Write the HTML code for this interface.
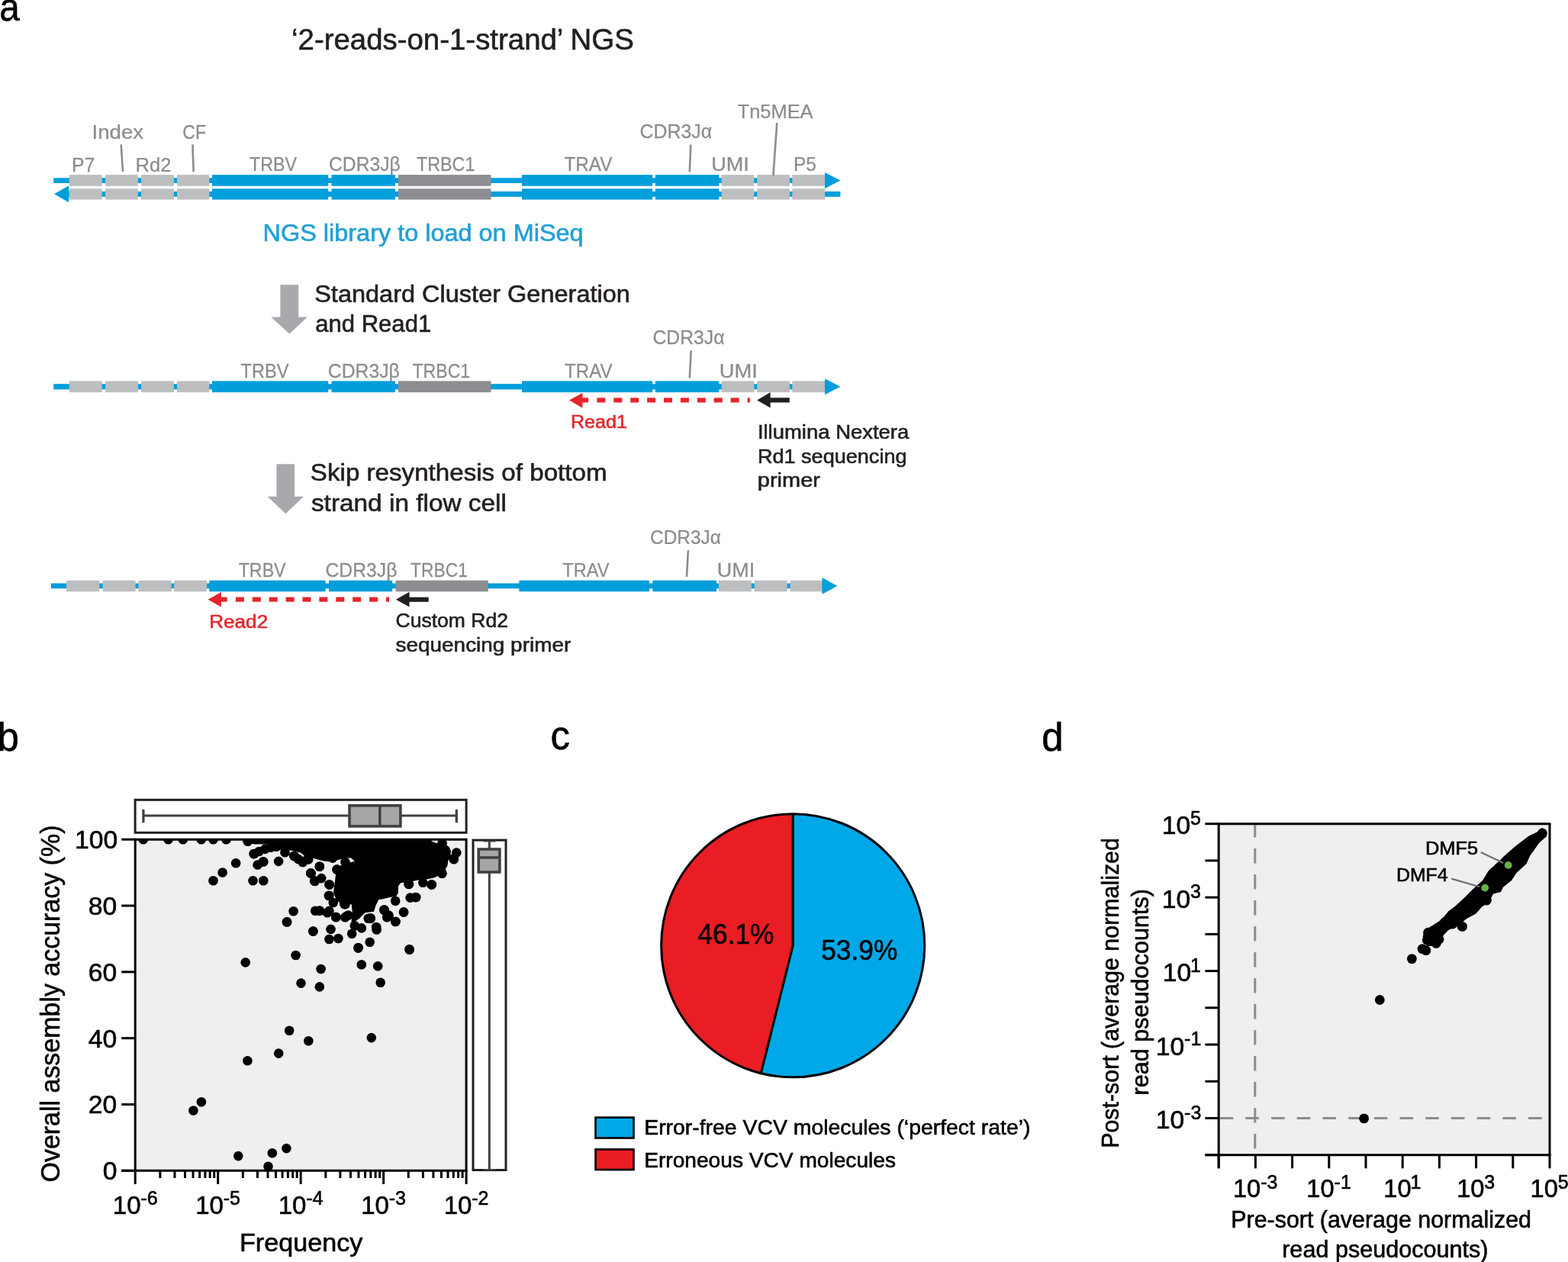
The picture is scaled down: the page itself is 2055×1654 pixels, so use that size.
<!DOCTYPE html>
<html><head><meta charset="utf-8"><title>Figure</title>
<style>html,body{margin:0;padding:0;background:#fff;overflow:hidden}svg{display:block}text{font-family:'Liberation Sans', Arial, sans-serif}</style>
</head><body>
<svg width="2055" height="1654" viewBox="0 0 2055 1654">
<rect width="2055" height="1654" fill="#fff"/>
<rect x="70.20" y="233.20" width="1011.80" height="6.80" fill="#009edb" />
<rect x="90.70" y="229.10" width="43.00" height="14.70" fill="#bcbec0" />
<rect x="138.10" y="229.10" width="42.80" height="14.70" fill="#bcbec0" />
<rect x="185.10" y="229.10" width="42.80" height="14.70" fill="#bcbec0" />
<rect x="232.00" y="229.10" width="42.30" height="14.70" fill="#bcbec0" />
<rect x="278.00" y="229.10" width="152.20" height="14.70" fill="#009edb" />
<rect x="434.50" y="229.10" width="83.50" height="14.70" fill="#009edb" />
<rect x="521.80" y="229.10" width="121.70" height="14.70" fill="#8d8e91" />
<rect x="684.00" y="229.10" width="171.10" height="14.70" fill="#009edb" />
<rect x="858.80" y="229.10" width="83.60" height="14.70" fill="#009edb" />
<rect x="945.70" y="229.10" width="42.60" height="14.70" fill="#bcbec0" />
<rect x="992.30" y="229.10" width="42.60" height="14.70" fill="#bcbec0" />
<rect x="1038.30" y="229.10" width="42.80" height="14.70" fill="#bcbec0" />
<polygon points="1081,226 1101.4,236.6 1081,247.3" fill="#009edb"/>
<rect x="88.00" y="250.90" width="1013.40" height="7.00" fill="#009edb" />
<rect x="90.70" y="247.30" width="43.00" height="14.30" fill="#bcbec0" />
<rect x="138.10" y="247.30" width="42.80" height="14.30" fill="#bcbec0" />
<rect x="185.10" y="247.30" width="42.80" height="14.30" fill="#bcbec0" />
<rect x="232.00" y="247.30" width="42.30" height="14.30" fill="#bcbec0" />
<rect x="278.00" y="247.30" width="152.20" height="14.30" fill="#009edb" />
<rect x="434.50" y="247.30" width="83.50" height="14.30" fill="#009edb" />
<rect x="521.80" y="247.30" width="121.70" height="14.30" fill="#8d8e91" />
<rect x="684.00" y="247.30" width="171.10" height="14.30" fill="#009edb" />
<rect x="858.80" y="247.30" width="83.60" height="14.30" fill="#009edb" />
<rect x="945.70" y="247.30" width="42.60" height="14.30" fill="#bcbec0" />
<rect x="992.30" y="247.30" width="42.60" height="14.30" fill="#bcbec0" />
<rect x="1038.30" y="247.30" width="42.80" height="14.30" fill="#bcbec0" />
<polygon points="90.2,243.3 71,254.2 90.2,265.2" fill="#009edb"/>
<line x1="158.7" y1="189.4" x2="161" y2="225" stroke="#8b8c8f" stroke-width="2.6"/>
<line x1="252.4" y1="189.4" x2="253.7" y2="225.3" stroke="#8b8c8f" stroke-width="2.6"/>
<line x1="905.3" y1="189.5" x2="903.8" y2="225.3" stroke="#8b8c8f" stroke-width="2.6"/>
<line x1="1018.3" y1="161" x2="1013.4" y2="230.2" stroke="#8b8c8f" stroke-width="2.6"/>
<polygon points="367.4,373.2 391.2,373.2 391.2,415.5 402.9,415.5 379.3,437.5 355.3,415.5 367.4,415.5" fill="#a7a9ac"/>
<rect x="70.20" y="503.20" width="1011.80" height="7.20" fill="#009edb" />
<rect x="90.70" y="499.40" width="43.00" height="14.80" fill="#bcbec0" />
<rect x="138.10" y="499.40" width="42.80" height="14.80" fill="#bcbec0" />
<rect x="185.10" y="499.40" width="42.80" height="14.80" fill="#bcbec0" />
<rect x="232.00" y="499.40" width="42.30" height="14.80" fill="#bcbec0" />
<rect x="278.00" y="499.40" width="152.20" height="14.80" fill="#009edb" />
<rect x="434.50" y="499.40" width="83.50" height="14.80" fill="#009edb" />
<rect x="521.80" y="499.40" width="121.70" height="14.80" fill="#8d8e91" />
<rect x="684.00" y="499.40" width="171.10" height="14.80" fill="#009edb" />
<rect x="858.80" y="499.40" width="83.60" height="14.80" fill="#009edb" />
<rect x="945.70" y="499.40" width="42.60" height="14.80" fill="#bcbec0" />
<rect x="992.30" y="499.40" width="42.60" height="14.80" fill="#bcbec0" />
<rect x="1038.30" y="499.40" width="42.80" height="14.80" fill="#bcbec0" />
<polygon points="1081,496.2 1101.4,506.7 1081,517.2" fill="#009edb"/>
<line x1="905.7" y1="459.4" x2="903.8" y2="495.4" stroke="#8b8c8f" stroke-width="2.6"/>
<polygon points="746.1,524.6 763.4,515.0 763.4,534.7" fill="#e3262b"/>
<rect x="762.4" y="521.4" width="8.70" height="6.100000000000023" fill="#e3262b"/>
<rect x="782.40" y="521.4" width="11.00" height="6.100000000000023" fill="#e3262b"/>
<rect x="804.30" y="521.4" width="11.00" height="6.100000000000023" fill="#e3262b"/>
<rect x="826.20" y="521.4" width="11.00" height="6.100000000000023" fill="#e3262b"/>
<rect x="848.10" y="521.4" width="11.00" height="6.100000000000023" fill="#e3262b"/>
<rect x="870.00" y="521.4" width="11.00" height="6.100000000000023" fill="#e3262b"/>
<rect x="891.90" y="521.4" width="11.00" height="6.100000000000023" fill="#e3262b"/>
<rect x="913.80" y="521.4" width="11.00" height="6.100000000000023" fill="#e3262b"/>
<rect x="935.70" y="521.4" width="11.00" height="6.100000000000023" fill="#e3262b"/>
<rect x="957.60" y="521.4" width="11.00" height="6.100000000000023" fill="#e3262b"/>
<rect x="979.50" y="521.4" width="3.40" height="6.100000000000023" fill="#e3262b"/>
<polygon points="992.1,524.4 1009.6,514.2 1009.6,534.6" fill="#231f20"/>
<rect x="1008.6" y="521.3" width="26.199999999999932" height="6.2000000000000455" fill="#231f20"/>
<polygon points="362.4,608.2 386,608.2 386,650.8 398.1,650.8 374.3,673.2 350.7,650.8 362.4,650.8" fill="#a7a9ac"/>
<rect x="66.90" y="764.50" width="1011.10" height="6.80" fill="#009edb" />
<rect x="87.10" y="760.70" width="43.20" height="14.60" fill="#bcbec0" />
<rect x="134.70" y="760.70" width="42.90" height="14.60" fill="#bcbec0" />
<rect x="181.40" y="760.70" width="43.20" height="14.60" fill="#bcbec0" />
<rect x="228.10" y="760.70" width="42.90" height="14.60" fill="#bcbec0" />
<rect x="274.20" y="760.70" width="152.40" height="14.60" fill="#009edb" />
<rect x="431.00" y="760.70" width="83.20" height="14.60" fill="#009edb" />
<rect x="518.60" y="760.70" width="121.20" height="14.60" fill="#8d8e91" />
<rect x="680.40" y="760.70" width="170.50" height="14.60" fill="#009edb" />
<rect x="855.40" y="760.70" width="83.60" height="14.60" fill="#009edb" />
<rect x="942.00" y="760.70" width="42.80" height="14.60" fill="#bcbec0" />
<rect x="988.80" y="760.70" width="42.80" height="14.60" fill="#bcbec0" />
<rect x="1035.50" y="760.70" width="42.30" height="14.60" fill="#bcbec0" />
<polygon points="1077.5,757 1097.4,768.1 1077.5,778.7" fill="#009edb"/>
<line x1="901.9" y1="721.3" x2="900" y2="756" stroke="#8b8c8f" stroke-width="2.6"/>
<polygon points="272.6,785.8 289.90000000000003,776.0 289.90000000000003,795.6" fill="#e3262b"/>
<rect x="288.90000000000003" y="782.6" width="8.70" height="6.100000000000023" fill="#e3262b"/>
<rect x="308.90" y="782.6" width="11.00" height="6.100000000000023" fill="#e3262b"/>
<rect x="330.80" y="782.6" width="11.00" height="6.100000000000023" fill="#e3262b"/>
<rect x="352.70" y="782.6" width="11.00" height="6.100000000000023" fill="#e3262b"/>
<rect x="374.60" y="782.6" width="11.00" height="6.100000000000023" fill="#e3262b"/>
<rect x="396.50" y="782.6" width="11.00" height="6.100000000000023" fill="#e3262b"/>
<rect x="418.40" y="782.6" width="11.00" height="6.100000000000023" fill="#e3262b"/>
<rect x="440.30" y="782.6" width="11.00" height="6.100000000000023" fill="#e3262b"/>
<rect x="462.20" y="782.6" width="11.00" height="6.100000000000023" fill="#e3262b"/>
<rect x="484.10" y="782.6" width="11.00" height="6.100000000000023" fill="#e3262b"/>
<rect x="506.00" y="782.6" width="4.00" height="6.100000000000023" fill="#e3262b"/>
<polygon points="519.0,785.7 536.5,775.7 536.5,795.6" fill="#231f20"/>
<rect x="535.5" y="782.7" width="26.200000000000045" height="6.099999999999909" fill="#231f20"/>
<rect x="177.2" y="1100.2" width="433.90000000000003" height="434.0999999999999" fill="#eef0ef"/>
<clipPath id="cb"><rect x="177.2" y="1100.2" width="433.90000000000003" height="434.0999999999999"/></clipPath><g clip-path="url(#cb)">
<polygon points="330,1099 565.6,1099 565.6,1102.4 571.8,1105.1 583.5,1105.9 589,1110.6 590.9,1115.2 590.5,1120.7 587.4,1127.7 586.6,1133.9 583.5,1140 577,1146 570,1150 561.7,1152 552.4,1152.6 540.7,1155 525.1,1157.3 522,1161.2 522,1169.8 519.6,1174.4 511,1176 501.7,1178.3 496.3,1179.1 492.4,1186.9 490,1194.7 478.4,1196.2 470.6,1204 462.8,1209.5 460.2,1211.8 461.7,1194.7 460.2,1180.7 463,1170 468,1155.7 466.4,1149.5 464,1127.7 460.2,1124.6 452.4,1124.6 440.7,1127.7 430.6,1129.3 421.2,1127.7 409.6,1124.6 397.9,1120.7 394,1117.6 380.7,1114.5 366.7,1113.7 352.7,1106.7 330.1,1105.9" fill="#000"/>
<polygon points="446,1138 452,1132 464,1129 468,1150 468,1158 463,1172 460,1182 452,1184 444,1178 441,1165 443,1150" fill="#000"/>
<polygon points="441,1137 452,1132 462,1133 462,1185 450,1186 441,1180 437,1170 439,1155" fill="#000"/>
<circle cx="187.8" cy="1100.3" r="6.3" fill="#000"/>
<circle cx="220.5" cy="1100.3" r="6.3" fill="#000"/>
<circle cx="239.8" cy="1100.3" r="6.3" fill="#000"/>
<circle cx="263.8" cy="1100.3" r="6.3" fill="#000"/>
<circle cx="279.5" cy="1100.3" r="6.3" fill="#000"/>
<circle cx="296.5" cy="1100.3" r="6.3" fill="#000"/>
<circle cx="323.9" cy="1100.3" r="6.3" fill="#000"/>
<circle cx="335" cy="1100.3" r="6.3" fill="#000"/>
<circle cx="309.1" cy="1131.2" r="6.3" fill="#000"/>
<circle cx="291.6" cy="1143.5" r="6.3" fill="#000"/>
<circle cx="279.5" cy="1154.3" r="6.3" fill="#000"/>
<circle cx="331.5" cy="1154.3" r="6.3" fill="#000"/>
<circle cx="345.3" cy="1154.3" r="6.3" fill="#000"/>
<circle cx="337.6" cy="1133.5" r="6.3" fill="#000"/>
<circle cx="345.3" cy="1129.5" r="6.3" fill="#000"/>
<circle cx="365.1" cy="1128.9" r="6.3" fill="#000"/>
<circle cx="333.2" cy="1119.0" r="6.3" fill="#000"/>
<circle cx="339.5" cy="1116.0" r="6.3" fill="#000"/>
<circle cx="347.3" cy="1112.9" r="6.3" fill="#000"/>
<circle cx="355.0" cy="1110.6" r="6.3" fill="#000"/>
<circle cx="362.0" cy="1109.8" r="6.3" fill="#000"/>
<circle cx="373.5" cy="1117.2" r="6.3" fill="#000"/>
<circle cx="385.2" cy="1121.9" r="6.3" fill="#000"/>
<circle cx="396.9" cy="1130.0" r="6.3" fill="#000"/>
<circle cx="403.9" cy="1126.0" r="6.3" fill="#000"/>
<circle cx="407.4" cy="1144.6" r="6.3" fill="#000"/>
<circle cx="412.1" cy="1154.6" r="6.3" fill="#000"/>
<circle cx="384.6" cy="1194.3" r="6.3" fill="#000"/>
<circle cx="375.9" cy="1208.5" r="6.3" fill="#000"/>
<circle cx="410.3" cy="1220.5" r="6.3" fill="#000"/>
<circle cx="413.2" cy="1193.7" r="6.3" fill="#000"/>
<circle cx="387.6" cy="1252.0" r="6.3" fill="#000"/>
<circle cx="324.7" cy="1102.8" r="6.3" fill="#000"/>
<circle cx="332.5" cy="1119.1" r="6.3" fill="#000"/>
<circle cx="344.9" cy="1129.3" r="6.3" fill="#000"/>
<circle cx="386.2" cy="1122.3" r="6.3" fill="#000"/>
<circle cx="391.0" cy="1126.0" r="6.3" fill="#000"/>
<circle cx="396.7" cy="1130.0" r="6.3" fill="#000"/>
<circle cx="402.6" cy="1126.2" r="6.3" fill="#000"/>
<circle cx="418.9" cy="1135.5" r="6.3" fill="#000"/>
<circle cx="407.6" cy="1144.5" r="6.3" fill="#000"/>
<circle cx="412.7" cy="1155.0" r="6.3" fill="#000"/>
<circle cx="421.2" cy="1151.1" r="6.3" fill="#000"/>
<circle cx="431.8" cy="1159.6" r="6.3" fill="#000"/>
<circle cx="441.5" cy="1139.4" r="6.3" fill="#000"/>
<circle cx="452.4" cy="1130.0" r="6.3" fill="#000"/>
<circle cx="418.9" cy="1118.4" r="6.3" fill="#000"/>
<circle cx="426.0" cy="1122.3" r="6.3" fill="#000"/>
<circle cx="436.0" cy="1124.6" r="6.3" fill="#000"/>
<circle cx="448.5" cy="1161.2" r="6.3" fill="#000"/>
<circle cx="431.4" cy="1173.7" r="6.3" fill="#000"/>
<circle cx="436.8" cy="1183.0" r="6.3" fill="#000"/>
<circle cx="452.4" cy="1185.3" r="6.3" fill="#000"/>
<circle cx="418.9" cy="1193.5" r="6.3" fill="#000"/>
<circle cx="429.0" cy="1196.2" r="6.3" fill="#000"/>
<circle cx="440.3" cy="1201.7" r="6.3" fill="#000"/>
<circle cx="454.0" cy="1200.9" r="6.3" fill="#000"/>
<circle cx="376.1" cy="1208.3" r="6.3" fill="#000"/>
<circle cx="598.3" cy="1117.5" r="6.3" fill="#000"/>
<circle cx="594.6" cy="1125.3" r="6.3" fill="#000"/>
<circle cx="579.4" cy="1144.7" r="6.3" fill="#000"/>
<circle cx="565.8" cy="1159.3" r="6.3" fill="#000"/>
<circle cx="554.3" cy="1156.7" r="6.3" fill="#000"/>
<circle cx="535.5" cy="1158.8" r="6.3" fill="#000"/>
<circle cx="544.4" cy="1176.1" r="6.3" fill="#000"/>
<circle cx="537.6" cy="1176.6" r="6.3" fill="#000"/>
<circle cx="529.2" cy="1195.4" r="6.3" fill="#000"/>
<circle cx="518.2" cy="1208.0" r="6.3" fill="#000"/>
<circle cx="518.2" cy="1180.8" r="6.3" fill="#000"/>
<circle cx="509.3" cy="1199.6" r="6.3" fill="#000"/>
<circle cx="503.6" cy="1192.3" r="6.3" fill="#000"/>
<circle cx="507.2" cy="1202.2" r="6.3" fill="#000"/>
<circle cx="493.6" cy="1218.5" r="6.3" fill="#000"/>
<circle cx="484.7" cy="1234.7" r="6.3" fill="#000"/>
<circle cx="469.6" cy="1242.0" r="6.3" fill="#000"/>
<circle cx="536.5" cy="1244.1" r="6.3" fill="#000"/>
<circle cx="461.2" cy="1223.7" r="6.3" fill="#000"/>
<circle cx="473.8" cy="1216.4" r="6.3" fill="#000"/>
<circle cx="464.9" cy="1213.2" r="6.3" fill="#000"/>
<circle cx="452.3" cy="1202.2" r="6.3" fill="#000"/>
<circle cx="456.5" cy="1199.6" r="6.3" fill="#000"/>
<circle cx="485.8" cy="1203.8" r="6.3" fill="#000"/>
<circle cx="482.7" cy="1203.8" r="6.3" fill="#000"/>
<circle cx="440.3" cy="1202.2" r="6.3" fill="#000"/>
<circle cx="418.8" cy="1193.9" r="6.3" fill="#000"/>
<circle cx="431.4" cy="1193.9" r="6.3" fill="#000"/>
<circle cx="410.5" cy="1220.5" r="6.3" fill="#000"/>
<circle cx="433.5" cy="1217.9" r="6.3" fill="#000"/>
<circle cx="431.4" cy="1231.0" r="6.3" fill="#000"/>
<circle cx="443.4" cy="1230.0" r="6.3" fill="#000"/>
<circle cx="430.9" cy="1174.0" r="6.3" fill="#000"/>
<circle cx="451.3" cy="1185.0" r="6.3" fill="#000"/>
<circle cx="431.4" cy="1159.3" r="6.3" fill="#000"/>
<circle cx="412.6" cy="1154.6" r="6.3" fill="#000"/>
<circle cx="407.3" cy="1144.2" r="6.3" fill="#000"/>
<circle cx="418.8" cy="1135.8" r="6.3" fill="#000"/>
<circle cx="441.8" cy="1140.0" r="6.3" fill="#000"/>
<circle cx="404.2" cy="1126.4" r="6.3" fill="#000"/>
<circle cx="594.8" cy="1126.2" r="6.3" fill="#000"/>
<circle cx="579.2" cy="1144.8" r="6.3" fill="#000"/>
<circle cx="565.6" cy="1159.6" r="6.3" fill="#000"/>
<circle cx="536.0" cy="1158.9" r="6.3" fill="#000"/>
<circle cx="545.3" cy="1176.0" r="6.3" fill="#000"/>
<circle cx="529.0" cy="1195.5" r="6.3" fill="#000"/>
<circle cx="503.3" cy="1192.7" r="6.3" fill="#000"/>
<circle cx="509.5" cy="1200.1" r="6.3" fill="#000"/>
<circle cx="518.5" cy="1207.9" r="6.3" fill="#000"/>
<circle cx="485.4" cy="1203.3" r="6.3" fill="#000"/>
<circle cx="493.2" cy="1215.0" r="6.3" fill="#000"/>
<circle cx="579.6" cy="1105.1" r="6.3" fill="#000"/>
<circle cx="321.7" cy="1261.4" r="6.3" fill="#000"/>
<circle cx="394.5" cy="1288.6" r="6.3" fill="#000"/>
<circle cx="379.2" cy="1350.8" r="6.3" fill="#000"/>
<circle cx="404.3" cy="1364.3" r="6.3" fill="#000"/>
<circle cx="365.2" cy="1380.6" r="6.3" fill="#000"/>
<circle cx="324.4" cy="1390.3" r="6.3" fill="#000"/>
<circle cx="263.9" cy="1444.3" r="6.3" fill="#000"/>
<circle cx="253.4" cy="1455.5" r="6.3" fill="#000"/>
<circle cx="312.3" cy="1515.1" r="6.3" fill="#000"/>
<circle cx="356.8" cy="1511.2" r="6.3" fill="#000"/>
<circle cx="375.4" cy="1505.1" r="6.3" fill="#000"/>
<circle cx="351.5" cy="1528.8" r="6.3" fill="#000"/>
<circle cx="469.4" cy="1242.6" r="6.3" fill="#000"/>
<circle cx="536.7" cy="1244.7" r="6.3" fill="#000"/>
<circle cx="420.6" cy="1270.0" r="6.3" fill="#000"/>
<circle cx="418.8" cy="1293.4" r="6.3" fill="#000"/>
<circle cx="473.8" cy="1264.3" r="6.3" fill="#000"/>
<circle cx="495.2" cy="1266.2" r="6.3" fill="#000"/>
<circle cx="498.7" cy="1287.8" r="6.3" fill="#000"/>
<circle cx="486.8" cy="1360.1" r="6.3" fill="#000"/>
</g>
<line x1="177.2" y1="1100.2" x2="611.1" y2="1100.2" stroke="#000" stroke-width="3"/>
<line x1="611.1" y1="1098.7" x2="611.1" y2="1534.3" stroke="#000" stroke-width="3"/>
<line x1="177.2" y1="1098.7" x2="177.2" y2="1535.8" stroke="#000" stroke-width="3"/>
<line x1="159.2" y1="1534.3" x2="612.6" y2="1534.3" stroke="#000" stroke-width="3"/>
<line x1="159.2" y1="1534.30" x2="177.2" y2="1534.30" stroke="#000" stroke-width="3"/>
<line x1="159.2" y1="1447.48" x2="177.2" y2="1447.48" stroke="#000" stroke-width="3"/>
<line x1="159.2" y1="1360.66" x2="177.2" y2="1360.66" stroke="#000" stroke-width="3"/>
<line x1="159.2" y1="1273.84" x2="177.2" y2="1273.84" stroke="#000" stroke-width="3"/>
<line x1="159.2" y1="1187.02" x2="177.2" y2="1187.02" stroke="#000" stroke-width="3"/>
<line x1="159.2" y1="1100.20" x2="177.2" y2="1100.20" stroke="#000" stroke-width="3"/>
<line x1="177.20" y1="1534.3" x2="177.20" y2="1552" stroke="#000" stroke-width="3"/>
<line x1="209.85" y1="1534.3" x2="209.85" y2="1544" stroke="#000" stroke-width="3"/>
<line x1="228.96" y1="1534.3" x2="228.96" y2="1544" stroke="#000" stroke-width="3"/>
<line x1="242.51" y1="1534.3" x2="242.51" y2="1544" stroke="#000" stroke-width="3"/>
<line x1="253.02" y1="1534.3" x2="253.02" y2="1544" stroke="#000" stroke-width="3"/>
<line x1="261.61" y1="1534.3" x2="261.61" y2="1544" stroke="#000" stroke-width="3"/>
<line x1="268.87" y1="1534.3" x2="268.87" y2="1544" stroke="#000" stroke-width="3"/>
<line x1="275.16" y1="1534.3" x2="275.16" y2="1544" stroke="#000" stroke-width="3"/>
<line x1="280.71" y1="1534.3" x2="280.71" y2="1544" stroke="#000" stroke-width="3"/>
<line x1="285.68" y1="1534.3" x2="285.68" y2="1552" stroke="#000" stroke-width="3"/>
<line x1="318.33" y1="1534.3" x2="318.33" y2="1544" stroke="#000" stroke-width="3"/>
<line x1="337.43" y1="1534.3" x2="337.43" y2="1544" stroke="#000" stroke-width="3"/>
<line x1="350.98" y1="1534.3" x2="350.98" y2="1544" stroke="#000" stroke-width="3"/>
<line x1="361.50" y1="1534.3" x2="361.50" y2="1544" stroke="#000" stroke-width="3"/>
<line x1="370.08" y1="1534.3" x2="370.08" y2="1544" stroke="#000" stroke-width="3"/>
<line x1="377.35" y1="1534.3" x2="377.35" y2="1544" stroke="#000" stroke-width="3"/>
<line x1="383.64" y1="1534.3" x2="383.64" y2="1544" stroke="#000" stroke-width="3"/>
<line x1="389.19" y1="1534.3" x2="389.19" y2="1544" stroke="#000" stroke-width="3"/>
<line x1="394.15" y1="1534.3" x2="394.15" y2="1552" stroke="#000" stroke-width="3"/>
<line x1="426.80" y1="1534.3" x2="426.80" y2="1544" stroke="#000" stroke-width="3"/>
<line x1="445.91" y1="1534.3" x2="445.91" y2="1544" stroke="#000" stroke-width="3"/>
<line x1="459.46" y1="1534.3" x2="459.46" y2="1544" stroke="#000" stroke-width="3"/>
<line x1="469.97" y1="1534.3" x2="469.97" y2="1544" stroke="#000" stroke-width="3"/>
<line x1="478.56" y1="1534.3" x2="478.56" y2="1544" stroke="#000" stroke-width="3"/>
<line x1="485.82" y1="1534.3" x2="485.82" y2="1544" stroke="#000" stroke-width="3"/>
<line x1="492.11" y1="1534.3" x2="492.11" y2="1544" stroke="#000" stroke-width="3"/>
<line x1="497.66" y1="1534.3" x2="497.66" y2="1544" stroke="#000" stroke-width="3"/>
<line x1="502.62" y1="1534.3" x2="502.62" y2="1552" stroke="#000" stroke-width="3"/>
<line x1="535.28" y1="1534.3" x2="535.28" y2="1544" stroke="#000" stroke-width="3"/>
<line x1="554.38" y1="1534.3" x2="554.38" y2="1544" stroke="#000" stroke-width="3"/>
<line x1="567.93" y1="1534.3" x2="567.93" y2="1544" stroke="#000" stroke-width="3"/>
<line x1="578.45" y1="1534.3" x2="578.45" y2="1544" stroke="#000" stroke-width="3"/>
<line x1="587.03" y1="1534.3" x2="587.03" y2="1544" stroke="#000" stroke-width="3"/>
<line x1="594.30" y1="1534.3" x2="594.30" y2="1544" stroke="#000" stroke-width="3"/>
<line x1="600.59" y1="1534.3" x2="600.59" y2="1544" stroke="#000" stroke-width="3"/>
<line x1="606.14" y1="1534.3" x2="606.14" y2="1544" stroke="#000" stroke-width="3"/>
<line x1="611.10" y1="1534.3" x2="611.10" y2="1552" stroke="#000" stroke-width="3"/>
<rect x="177.1" y="1048.3" width="434" height="43" fill="#fff" stroke="#231f20" stroke-width="3"/>
<line x1="187.9" y1="1069" x2="598.5" y2="1069" stroke="#404040" stroke-width="3"/>
<line x1="187.9" y1="1062.2" x2="187.9" y2="1076.9" stroke="#404040" stroke-width="3.3" stroke-linecap="round"/>
<line x1="598.3" y1="1062.2" x2="598.3" y2="1076.9" stroke="#404040" stroke-width="3.3" stroke-linecap="round"/>
<rect x="458" y="1055.8" width="66.9" height="27.1" fill="#a6a6a6" stroke="#404040" stroke-width="3.6"/>
<line x1="497.8" y1="1056" x2="497.8" y2="1083" stroke="#404040" stroke-width="3.5"/>
<rect x="620" y="1101.1" width="43" height="432.4" fill="#fff" stroke="#231f20" stroke-width="3"/>
<line x1="641.3" y1="1101.8" x2="641.3" y2="1533" stroke="#404040" stroke-width="3"/>
<line x1="633.5" y1="1102.5" x2="649.5" y2="1102.5" stroke="#404040" stroke-width="2"/>
<line x1="633.5" y1="1533" x2="649.5" y2="1533" stroke="#404040" stroke-width="2"/>
<rect x="627.2" y="1113" width="27.7" height="30" fill="#a6a6a6" stroke="#404040" stroke-width="3.6"/>
<line x1="627" y1="1123.9" x2="655" y2="1123.9" stroke="#404040" stroke-width="3.5"/>
<circle cx="1039.2" cy="1239.25" r="172.6" fill="#00a8e8"/>
<path d="M1039.2,1239.25 L1039.2,1066.65 A172.6,172.6 0 0 0 997.33,1406.69 Z" fill="#ea1c24"/>
<path d="M1039.2,1066.65 L1039.2,1239.25 L997.33,1406.69" fill="none" stroke="#000" stroke-width="3" stroke-linejoin="miter"/>
<circle cx="1039.2" cy="1239.25" r="172.6" fill="none" stroke="#000" stroke-width="3"/>
<rect x="780.5" y="1464.6" width="50" height="26.9" fill="#00a8e8" stroke="#000" stroke-width="2.6"/>
<rect x="780.5" y="1506.4" width="50" height="26.6" fill="#ea1c24" stroke="#000" stroke-width="2.6"/>
<rect x="1597.2" y="1079.7" width="433.79999999999995" height="434.0" fill="#eef0ef"/>
<line x1="1644.8" y1="1081.2" x2="1644.8" y2="1512.2" stroke="#8c8c8c" stroke-width="3" stroke-dasharray="19.6 14.4" stroke-dashoffset="3.2" />
<line x1="1598.7" y1="1465.4" x2="2029.5" y2="1465.4" stroke="#8c8c8c" stroke-width="3" stroke-dasharray="17.5 16.2" stroke-dashoffset="0"/>
<polygon points="2021,1085 2027,1090 2027,1096 2017,1105 2005,1122 2000.6,1132 1987.6,1144 1981,1154 1970,1162.7 1967,1169 1957,1171.4 1951.7,1182.3 1942,1188.8 1934.3,1197.5 1922.3,1204 1909.2,1214 1898.3,1219 1891.8,1225.8 1887.5,1236 1878.8,1240 1870,1240 1864.6,1228 1866.8,1219.3 1877.7,1212.8 1889.6,1205 1898.3,1194.3 1907,1187.7 1920,1175.8 1932,1163.8 1943,1154 1951,1141 1962.5,1130.5 1974,1119.5 1985.5,1109.5 2003,1096 2015.9,1089.8" fill="#000"/>
<circle cx="2021.3" cy="1092" r="6.4" fill="#000"/>
<circle cx="1850.4" cy="1256.6" r="6.4" fill="#000"/>
<circle cx="1808.3" cy="1310.5" r="6.4" fill="#000"/>
<circle cx="1864" cy="1243.6" r="6.4" fill="#000"/>
<circle cx="1868.9" cy="1245.7" r="6.4" fill="#000"/>
<circle cx="1870.3" cy="1232.2" r="6.4" fill="#000"/>
<circle cx="1871.6" cy="1222.2" r="6.4" fill="#000"/>
<circle cx="1883" cy="1217" r="6.4" fill="#000"/>
<circle cx="1882.2" cy="1236.4" r="6.4" fill="#000"/>
<circle cx="1886" cy="1231.3" r="6.4" fill="#000"/>
<circle cx="1893.6" cy="1208.5" r="6.4" fill="#000"/>
<circle cx="1903.8" cy="1211" r="6.4" fill="#000"/>
<circle cx="1916.5" cy="1214.4" r="6.4" fill="#000"/>
<circle cx="1787.6" cy="1465.9" r="6.4" fill="#000"/>
<circle cx="1915.8" cy="1213.8" r="6.4" fill="#000"/>
<circle cx="1948.4" cy="1180" r="6.4" fill="#000"/>
<circle cx="1976.7" cy="1133.9" r="4.9" fill="#6ab046"/>
<circle cx="1946.2" cy="1163.6" r="4.9" fill="#6ab046"/>
<line x1="1940.8" y1="1117" x2="1970.2" y2="1131.1" stroke="#6d6e70" stroke-width="2.2"/>
<line x1="1902.2" y1="1151.6" x2="1939.1" y2="1162.2" stroke="#6d6e70" stroke-width="2.2"/>
<line x1="1597.2" y1="1079.7" x2="2032.5" y2="1079.7" stroke="#000" stroke-width="3"/>
<line x1="2031.0" y1="1079.7" x2="2031.0" y2="1513.7" stroke="#000" stroke-width="3"/>
<line x1="1597.2" y1="1078.2" x2="1597.2" y2="1531.3" stroke="#000" stroke-width="3"/>
<line x1="1579.4" y1="1513.7" x2="2032.5" y2="1513.7" stroke="#000" stroke-width="3"/>
<line x1="1579.4" y1="1079.70" x2="1597.2" y2="1079.70" stroke="#000" stroke-width="3"/>
<line x1="1597.20" y1="1513.7" x2="1597.20" y2="1531.3" stroke="#000" stroke-width="3"/>
<line x1="1579.4" y1="1127.92" x2="1597.2" y2="1127.92" stroke="#000" stroke-width="3"/>
<line x1="1645.40" y1="1513.7" x2="1645.40" y2="1531.3" stroke="#000" stroke-width="3"/>
<line x1="1579.4" y1="1176.14" x2="1597.2" y2="1176.14" stroke="#000" stroke-width="3"/>
<line x1="1693.60" y1="1513.7" x2="1693.60" y2="1531.3" stroke="#000" stroke-width="3"/>
<line x1="1579.4" y1="1224.37" x2="1597.2" y2="1224.37" stroke="#000" stroke-width="3"/>
<line x1="1741.80" y1="1513.7" x2="1741.80" y2="1531.3" stroke="#000" stroke-width="3"/>
<line x1="1579.4" y1="1272.59" x2="1597.2" y2="1272.59" stroke="#000" stroke-width="3"/>
<line x1="1790.00" y1="1513.7" x2="1790.00" y2="1531.3" stroke="#000" stroke-width="3"/>
<line x1="1579.4" y1="1320.81" x2="1597.2" y2="1320.81" stroke="#000" stroke-width="3"/>
<line x1="1838.20" y1="1513.7" x2="1838.20" y2="1531.3" stroke="#000" stroke-width="3"/>
<line x1="1579.4" y1="1369.03" x2="1597.2" y2="1369.03" stroke="#000" stroke-width="3"/>
<line x1="1886.40" y1="1513.7" x2="1886.40" y2="1531.3" stroke="#000" stroke-width="3"/>
<line x1="1579.4" y1="1417.26" x2="1597.2" y2="1417.26" stroke="#000" stroke-width="3"/>
<line x1="1934.60" y1="1513.7" x2="1934.60" y2="1531.3" stroke="#000" stroke-width="3"/>
<line x1="1579.4" y1="1465.48" x2="1597.2" y2="1465.48" stroke="#000" stroke-width="3"/>
<line x1="1982.80" y1="1513.7" x2="1982.80" y2="1531.3" stroke="#000" stroke-width="3"/>
<line x1="1579.4" y1="1513.70" x2="1597.2" y2="1513.70" stroke="#000" stroke-width="3"/>
<line x1="2031.00" y1="1513.7" x2="2031.00" y2="1531.3" stroke="#000" stroke-width="3"/>
<text transform="translate(-0.67,26.50) scale(0.9346,1)" font-size="51" fill="#000" stroke="#000" stroke-width="0.6">a</text>
<text transform="translate(382.00,64.70) scale(0.9978,1)" font-size="38.5" fill="#231f20" stroke="#231f20" stroke-width="0.6">‘2-reads-on-1-strand’ NGS</text>
<text transform="translate(94.01,224.60) scale(0.9926,1)" font-size="25" fill="#8b8c8f" stroke="#8b8c8f" stroke-width="0.25">P7</text>
<text transform="translate(120.59,181.60) scale(1.1034,1)" font-size="25" fill="#8b8c8f" stroke="#8b8c8f" stroke-width="0.25">Index</text>
<text transform="translate(177.56,224.60) scale(1.0209,1)" font-size="25" fill="#8b8c8f" stroke="#8b8c8f" stroke-width="0.25">Rd2</text>
<text transform="translate(239.37,181.80) scale(0.9258,1)" font-size="25" fill="#8b8c8f" stroke="#8b8c8f" stroke-width="0.25">CF</text>
<text transform="translate(327.07,224.20) scale(0.9308,1)" font-size="25" fill="#8b8c8f" stroke="#8b8c8f" stroke-width="0.25">TRBV</text>
<text transform="translate(431.01,224.20) scale(0.9871,1)" font-size="25" fill="#8b8c8f" stroke="#8b8c8f" stroke-width="0.25">CDR3Jβ</text>
<text transform="translate(546.07,224.20) scale(0.9313,1)" font-size="25" fill="#8b8c8f" stroke="#8b8c8f" stroke-width="0.25">TRBC1</text>
<text transform="translate(739.43,224.20) scale(0.9734,1)" font-size="25" fill="#8b8c8f" stroke="#8b8c8f" stroke-width="0.25">TRAV</text>
<text transform="translate(838.50,181.40) scale(0.9968,1)" font-size="25" fill="#8b8c8f" stroke="#8b8c8f" stroke-width="0.25">CDR3Jα</text>
<text transform="translate(932.24,224.20) scale(1.0810,1)" font-size="25" fill="#8b8c8f" stroke="#8b8c8f" stroke-width="0.25">UMI</text>
<text transform="translate(966.58,154.60) scale(1.0188,1)" font-size="25" fill="#8b8c8f" stroke="#8b8c8f" stroke-width="0.25">Tn5MEA</text>
<text transform="translate(1039.94,224.20) scale(0.9786,1)" font-size="25" fill="#8b8c8f" stroke="#8b8c8f" stroke-width="0.25">P5</text>
<text transform="translate(344.56,316.30) scale(1.0467,1)" font-size="31" fill="#239fd8" stroke="#239fd8" stroke-width="0.6">NGS library to load on MiSeq</text>
<text transform="translate(412.18,395.60) scale(1.0587,1)" font-size="30.7" fill="#231f20" stroke="#231f20" stroke-width="0.6">Standard Cluster Generation</text>
<text transform="translate(413.29,434.90) scale(1.0115,1)" font-size="30.7" fill="#231f20" stroke="#231f20" stroke-width="0.6">and Read1</text>
<text transform="translate(315.56,494.50) scale(0.9446,1)" font-size="25" fill="#8b8c8f" stroke="#8b8c8f" stroke-width="0.25">TRBV</text>
<text transform="translate(429.81,494.50) scale(0.9903,1)" font-size="25" fill="#8b8c8f" stroke="#8b8c8f" stroke-width="0.25">CDR3Jβ</text>
<text transform="translate(540.48,494.50) scale(0.9237,1)" font-size="25" fill="#8b8c8f" stroke="#8b8c8f" stroke-width="0.25">TRBC1</text>
<text transform="translate(740.04,494.90) scale(0.9641,1)" font-size="25" fill="#8b8c8f" stroke="#8b8c8f" stroke-width="0.25">TRAV</text>
<text transform="translate(855.51,451.00) scale(0.9892,1)" font-size="25" fill="#8b8c8f" stroke="#8b8c8f" stroke-width="0.25">CDR3Jα</text>
<text transform="translate(942.81,494.90) scale(1.0952,1)" font-size="25" fill="#8b8c8f" stroke="#8b8c8f" stroke-width="0.25">UMI</text>
<text transform="translate(747.95,561.40) scale(1.0261,1)" font-size="24.5" fill="#e3262b" stroke="#e3262b" stroke-width="0.6">Read1</text>
<text transform="translate(992.89,574.80) scale(1.0565,1)" font-size="26" fill="#231f20" stroke="#231f20" stroke-width="0.6">Illumina Nextera</text>
<text transform="translate(992.92,606.60) scale(1.0413,1)" font-size="26" fill="#231f20" stroke="#231f20" stroke-width="0.6">Rd1 sequencing</text>
<text transform="translate(992.77,638.30) scale(1.1155,1)" font-size="26" fill="#231f20" stroke="#231f20" stroke-width="0.6">primer</text>
<text transform="translate(406.84,630.40) scale(1.0801,1)" font-size="30.7" fill="#231f20" stroke="#231f20" stroke-width="0.6">Skip resynthesis of bottom</text>
<text transform="translate(407.91,669.80) scale(1.0879,1)" font-size="30.7" fill="#231f20" stroke="#231f20" stroke-width="0.6">strand in flow cell</text>
<text transform="translate(312.67,755.60) scale(0.9292,1)" font-size="25" fill="#8b8c8f" stroke="#8b8c8f" stroke-width="0.25">TRBV</text>
<text transform="translate(426.51,755.60) scale(0.9892,1)" font-size="25" fill="#8b8c8f" stroke="#8b8c8f" stroke-width="0.25">CDR3Jβ</text>
<text transform="translate(538.09,755.60) scale(0.9125,1)" font-size="25" fill="#8b8c8f" stroke="#8b8c8f" stroke-width="0.25">TRBC1</text>
<text transform="translate(737.36,755.60) scale(0.9438,1)" font-size="25" fill="#8b8c8f" stroke="#8b8c8f" stroke-width="0.25">TRAV</text>
<text transform="translate(939.84,755.60) scale(1.0786,1)" font-size="25" fill="#8b8c8f" stroke="#8b8c8f" stroke-width="0.25">UMI</text>
<text transform="translate(852.02,713.20) scale(0.9785,1)" font-size="25" fill="#8b8c8f" stroke="#8b8c8f" stroke-width="0.25">CDR3Jα</text>
<text transform="translate(274.17,822.80) scale(1.0667,1)" font-size="24.5" fill="#e3262b" stroke="#e3262b" stroke-width="0.6">Read2</text>
<text transform="translate(518.58,822.40) scale(1.0197,1)" font-size="26" fill="#231f20" stroke="#231f20" stroke-width="0.6">Custom Rd2</text>
<text transform="translate(518.53,854.40) scale(1.0745,1)" font-size="26" fill="#231f20" stroke="#231f20" stroke-width="0.6">sequencing primer</text>
<text transform="translate(-3.50,983.60)" font-size="51" fill="#000" stroke="#000" stroke-width="0.6">b</text>
<text transform="translate(98.10,1112.20)" font-size="33.7" fill="#000" stroke="#000" stroke-width="0.6">100</text>
<text transform="translate(115.80,1199.02)" font-size="33.7" fill="#000" stroke="#000" stroke-width="0.6">80</text>
<text transform="translate(115.80,1285.84)" font-size="33.7" fill="#000" stroke="#000" stroke-width="0.6">60</text>
<text transform="translate(115.80,1372.66)" font-size="33.7" fill="#000" stroke="#000" stroke-width="0.6">40</text>
<text transform="translate(115.80,1459.48)" font-size="33.7" fill="#000" stroke="#000" stroke-width="0.6">20</text>
<text transform="translate(134.80,1546.30)" font-size="33.7" fill="#000" stroke="#000" stroke-width="0.6">0</text>
<text transform="translate(147.75,1590.70) scale(0.9818,1)" font-size="33.7" fill="#000" stroke="#000" stroke-width="0.6">10</text>
<text transform="translate(184.30,1578.90)" font-size="25" fill="#000" stroke="#000" stroke-width="0.6">-6</text>
<text transform="translate(256.23,1590.70) scale(0.9818,1)" font-size="33.7" fill="#000" stroke="#000" stroke-width="0.6">10</text>
<text transform="translate(292.78,1578.90)" font-size="25" fill="#000" stroke="#000" stroke-width="0.6">-5</text>
<text transform="translate(364.70,1590.70) scale(0.9818,1)" font-size="33.7" fill="#000" stroke="#000" stroke-width="0.6">10</text>
<text transform="translate(401.25,1578.90)" font-size="25" fill="#000" stroke="#000" stroke-width="0.6">-4</text>
<text transform="translate(473.18,1590.70) scale(0.9818,1)" font-size="33.7" fill="#000" stroke="#000" stroke-width="0.6">10</text>
<text transform="translate(509.73,1578.90)" font-size="25" fill="#000" stroke="#000" stroke-width="0.6">-3</text>
<text transform="translate(581.65,1590.70) scale(0.9818,1)" font-size="33.7" fill="#000" stroke="#000" stroke-width="0.6">10</text>
<text transform="translate(618.20,1578.90)" font-size="25" fill="#000" stroke="#000" stroke-width="0.6">-2</text>
<text transform="translate(313.99,1640.10) scale(1.0045,1)" font-size="34" fill="#000" stroke="#000" stroke-width="0.6">Frequency</text>
<text transform="translate(77.60,1549.47) rotate(-90) scale(0.9847,1)" font-size="34.5" fill="#000" stroke="#000" stroke-width="0.6">Overall assembly accuracy (%)</text>
<text transform="translate(721.40,982.30)" font-size="51" fill="#000" stroke="#000" stroke-width="0.6">c</text>
<text transform="translate(914.53,1237.20) scale(0.9653,1)" font-size="36.5" fill="#000" stroke="#000" stroke-width="0.6">46.1%</text>
<text transform="translate(1076.27,1257.80) scale(0.9660,1)" font-size="36.5" fill="#000" stroke="#000" stroke-width="0.6">53.9%</text>
<text transform="translate(844.21,1487.20) scale(0.9960,1)" font-size="28.5" fill="#000" stroke="#000" stroke-width="0.6">Error-free VCV molecules (‘perfect rate’)</text>
<text transform="translate(844.23,1530.30) scale(0.9873,1)" font-size="28.5" fill="#000" stroke="#000" stroke-width="0.6">Erroneous VCV molecules</text>
<text transform="translate(1365.30,983.50)" font-size="51" fill="#000" stroke="#000" stroke-width="0.6">d</text>
<text transform="translate(1867.91,1119.70) scale(1.0460,1)" font-size="24.3" fill="#000" stroke="#000" stroke-width="0.6">DMF5</text>
<text transform="translate(1829.95,1154.90) scale(1.0234,1)" font-size="24.3" fill="#000" stroke="#000" stroke-width="0.6">DMF4</text>
<text transform="translate(1560.10,1081.00)" font-size="25" fill="#000" stroke="#000" stroke-width="0.6">5</text>
<text transform="translate(1522.80,1093.20)" font-size="33.7" fill="#000" stroke="#000" stroke-width="0.6">10</text>
<text transform="translate(1560.10,1177.44)" font-size="25" fill="#000" stroke="#000" stroke-width="0.6">3</text>
<text transform="translate(1522.80,1189.64)" font-size="33.7" fill="#000" stroke="#000" stroke-width="0.6">10</text>
<text transform="translate(1560.10,1273.89)" font-size="25" fill="#000" stroke="#000" stroke-width="0.6">1</text>
<text transform="translate(1523.80,1286.09)" font-size="33.7" fill="#000" stroke="#000" stroke-width="0.6">10</text>
<text transform="translate(1552.10,1370.33)" font-size="25" fill="#000" stroke="#000" stroke-width="0.6">-1</text>
<text transform="translate(1514.80,1382.53)" font-size="33.7" fill="#000" stroke="#000" stroke-width="0.6">10</text>
<text transform="translate(1552.10,1466.78)" font-size="25" fill="#000" stroke="#000" stroke-width="0.6">-3</text>
<text transform="translate(1514.80,1478.98)" font-size="33.7" fill="#000" stroke="#000" stroke-width="0.6">10</text>
<text transform="translate(1615.94,1569.40) scale(0.9697,1)" font-size="33.7" fill="#000" stroke="#000" stroke-width="0.6">10</text>
<text transform="translate(1652.15,1557.60)" font-size="25" fill="#000" stroke="#000" stroke-width="0.6">-3</text>
<text transform="translate(1712.34,1569.40) scale(0.9697,1)" font-size="33.7" fill="#000" stroke="#000" stroke-width="0.6">10</text>
<text transform="translate(1748.55,1557.60)" font-size="25" fill="#000" stroke="#000" stroke-width="0.6">-1</text>
<text transform="translate(1813.24,1569.40) scale(0.9697,1)" font-size="33.7" fill="#000" stroke="#000" stroke-width="0.6">10</text>
<text transform="translate(1848.45,1557.60)" font-size="25" fill="#000" stroke="#000" stroke-width="0.6">1</text>
<text transform="translate(1909.14,1569.40) scale(0.9697,1)" font-size="33.7" fill="#000" stroke="#000" stroke-width="0.6">10</text>
<text transform="translate(1945.35,1557.60)" font-size="25" fill="#000" stroke="#000" stroke-width="0.6">3</text>
<text transform="translate(2005.54,1569.40) scale(0.9697,1)" font-size="33.7" fill="#000" stroke="#000" stroke-width="0.6">10</text>
<text transform="translate(2041.75,1557.60)" font-size="25" fill="#000" stroke="#000" stroke-width="0.6">5</text>
<text transform="translate(1613.23,1608.90) scale(0.9563,1)" font-size="31.8" fill="#000" stroke="#000" stroke-width="0.6">Pre-sort (average normalized</text>
<text transform="translate(1680.18,1647.70) scale(0.9625,1)" font-size="31.8" fill="#000" stroke="#000" stroke-width="0.6">read pseudocounts)</text>
<text transform="translate(1466.40,1504.77) rotate(-90) scale(0.9551,1)" font-size="31.8" fill="#000" stroke="#000" stroke-width="0.6">Post-sort (average normalized</text>
<text transform="translate(1504.80,1435.53) rotate(-90) scale(0.9628,1)" font-size="31.8" fill="#000" stroke="#000" stroke-width="0.6">read pseudocounts)</text>
</svg>
</body></html>
